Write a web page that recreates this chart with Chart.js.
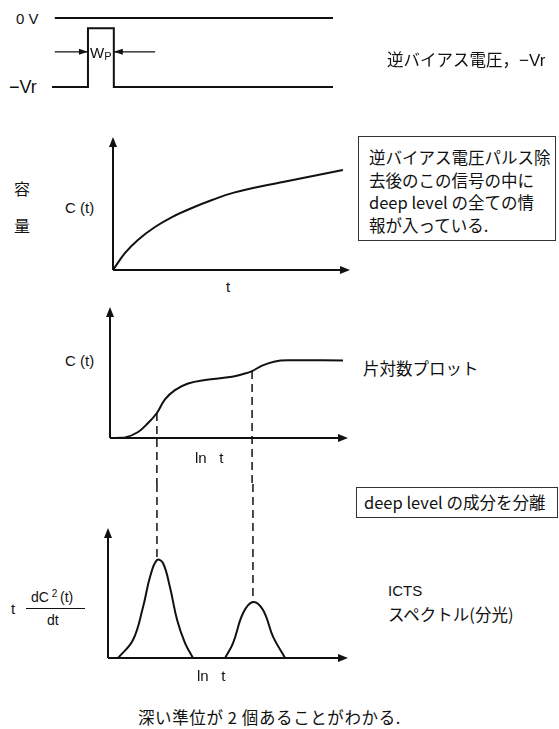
<!DOCTYPE html>
<html>
<head>
<meta charset="utf-8">
<script src="https://cdn.jsdelivr.net/npm/chart.js@4.4.1/dist/chart.umd.min.js"></script>
<style>
  body { margin: 0; background: #fff; }
  #page { position: relative; width: 559px; height: 729px; overflow: hidden; background: #fff;
          font-family: "Liberation Sans", Arial, "Noto Sans CJK JP", sans-serif; color: #111; }
  .t { position: absolute; white-space: nowrap; transform: translateY(-50%); line-height: 1; }
  .jp { font-family: "Noto Sans CJK JP", sans-serif; font-size: 16.5px; }
  .sans { font-family: "Liberation Sans", Arial, sans-serif; }
  .box { position: absolute; border: 1.5px solid #333; box-sizing: border-box; }
  canvas { position: absolute; }
</style>
</head>
<body>
<div id="page">
  <canvas id="c1" width="293" height="81" style="left:46px;top:12px"></canvas>
  <canvas id="c2" width="249" height="145" style="left:107px;top:131px"></canvas>
  <canvas id="c3" width="250" height="183" style="left:104px;top:301px"></canvas>
  <canvas id="c4" width="252" height="180" style="left:102px;top:484px"></canvas>

  <div class="t" style="left:16px;top:18px;font-size:15px">0 V</div>
  <div class="t" style="left:9px;top:87px;font-size:18px">−Vr</div>
  <div class="t" style="left:90px;top:52px;font-size:15px">W<span style="font-size:11px;position:relative;top:2px">P</span></div>
  <div class="t jp" style="left:387px;top:60px">逆バイアス電圧，<span class="sans" style="font-size:17px">−Vr</span></div>

  <div class="t jp" style="left:14px;top:188px;font-size:16px">容</div>
  <div class="t jp" style="left:14px;top:225px;font-size:16px">量</div>
  <div class="t" style="left:65px;top:207px;font-size:15px">C (t)</div>
  <div class="t" style="left:226px;top:286px;font-size:15px">t</div>

  <div class="box" style="left:358px;top:136px;width:198px;height:105px"></div>
  <div class="t jp" style="left:369px;top:157px">逆バイアス電圧パルス除</div>
  <div class="t jp" style="left:369px;top:180px">去後のこの信号の中に</div>
  <div class="t jp" style="left:369px;top:202px">deep level の全ての情</div>
  <div class="t jp" style="left:369px;top:225px">報が入っている.</div>

  <div class="t" style="left:65px;top:360px;font-size:15px">C (t)</div>
  <div class="t" style="left:195px;top:457px;font-size:15px">ln&nbsp;&nbsp;&nbsp;t</div>
  <div class="t jp" style="left:363px;top:368px">片対数プロット</div>

  <div class="box" style="left:356px;top:487px;width:202px;height:31px"></div>
  <div class="t jp" style="left:364px;top:502px">deep level の成分を分離</div>

  <div class="t" style="left:11px;top:608px;font-size:15px">t</div>
  <div class="t" style="left:31px;top:597px;font-size:14px">dC<span style="font-size:10px;position:relative;top:-5px"> 2 </span>(t)</div>
  <div style="position:absolute;left:26px;top:608px;width:59px;border-top:1.2px solid #111"></div>
  <div class="t" style="left:47px;top:620px;font-size:14px">dt</div>
  <div class="t" style="left:197px;top:675px;font-size:15px">ln&nbsp;&nbsp;&nbsp;t</div>
  <div class="t" style="left:388px;top:590px;font-size:15px">ICTS</div>
  <div class="t jp" style="left:388px;top:614px">スペクトル(分光)</div>

  <div class="t jp" style="left:138px;top:717px;letter-spacing:0.6px">深い準位が 2 個あることがわかる.</div>
</div>
<script>
// panel 1: bias pulse (x: time 0..100, y: volts in units of Vr)
const zeroX = [1, 100];
const zeroY = [0, 0];
const biasX = [0, 12.8, 12.8, 22, 22, 100];
const biasY = [-1, -1, -0.15, -0.15, -1, -1];
const wpArrowsX = [[1, 12.8], [36.7, 22]];
const wpArrowY = -0.49;

// panel 2: C(t) vs t
const ctX = [0, 0.51, 1.05, 1.77, 2.49, 3.33, 4.18, 5.10, 7.17, 9.70];
const ctY = [0, 1.28, 2.26, 3.23, 3.98, 4.66, 5.26, 5.82, 6.62, 7.52];

// panel 3: C(t) vs ln t
const lnX = [0, 0.63, 1.18, 1.60, 1.97, 2.31, 2.73, 3.28, 3.99, 5.13, 5.67, 5.97, 6.39, 6.93, 7.48, 9.79];
const lnY = [0, 0.04, 0.46, 1.15, 1.91, 2.95, 3.66, 4.16, 4.43, 4.68, 4.92, 5.11, 5.52, 5.84, 5.93, 5.92];
const dropX3 = [1.97, 5.97];
const dropY3 = [1.91, 5.11];

// panel 4: ICTS spectrum
const peak1X = [0.42, 1.04, 1.46, 1.75, 2.04, 2.29, 2.58, 2.88, 3.21, 3.54];
const peak1Y = [0, 1.38, 3.92, 6.23, 7.54, 7.31, 5.46, 2.92, 1.15, 0];
const peak2X = [4.88, 5.21, 5.63, 6.04, 6.46, 6.88, 7.38];
const peak2Y = [0, 1.15, 3.46, 4.31, 3.69, 1.62, 0];
const dropX4 = [2.04, 6.04];
const dropY4 = [7.54, 4.31];

const ink = '#111';
const pts = (xs, ys) => xs.map((x, i) => ({ x, y: ys[i] }));

function head(ctx, x, y, dir, len = 10, w = 4) {
    ctx.beginPath();
    if (dir === 'up') { ctx.moveTo(x, y); ctx.lineTo(x - w, y + len); ctx.lineTo(x + w, y + len); }
    if (dir === 'right') { ctx.moveTo(x, y); ctx.lineTo(x - len, y - w); ctx.lineTo(x - len, y + w); }
    if (dir === 'left') { ctx.moveTo(x, y); ctx.lineTo(x + len, y - w); ctx.lineTo(x + len, y + w); }
    ctx.closePath();
    ctx.fill();
}

const extras = {
    id: 'extras',
    beforeDatasetsDraw(chart, args, opts) {
        const { ctx, chartArea: a } = chart;
        const xs = chart.scales.x, ys = chart.scales.y;
        ctx.save();
        ctx.strokeStyle = ink;
        ctx.fillStyle = ink;
        if (opts.axes) {
            ctx.lineWidth = 2;
            ctx.beginPath();
            ctx.moveTo(a.left, a.bottom); ctx.lineTo(a.left, a.top + 6);
            ctx.moveTo(a.left, a.bottom); ctx.lineTo(a.right - 6, a.bottom);
            ctx.stroke();
            head(ctx, a.left, a.top, 'up');
            head(ctx, a.right, a.bottom, 'right');
        }
        if (opts.drops) {
            ctx.lineWidth = 1.5;
            ctx.setLineDash([8, 5]);
            opts.drops.xs.forEach((v, i) => {
                const px = xs.getPixelForValue(v);
                const py = ys.getPixelForValue(opts.drops.ys[i]);
                ctx.beginPath();
                if (opts.drops.down) { ctx.moveTo(px, py); ctx.lineTo(px, chart.height); }
                else { ctx.moveTo(px, 0); ctx.lineTo(px, py); }
                ctx.stroke();
            });
            ctx.setLineDash([]);
        }
        if (opts.wp) {
            ctx.lineWidth = 1.2;
            const py = ys.getPixelForValue(wpArrowY);
            wpArrowsX.forEach(([from, to]) => {
                const x1 = xs.getPixelForValue(from), x2 = xs.getPixelForValue(to);
                ctx.beginPath();
                ctx.moveTo(x1, py); ctx.lineTo(x2, py);
                ctx.stroke();
                head(ctx, x2, py, x2 > x1 ? 'right' : 'left', 9, 3);
            });
        }
        ctx.restore();
    }
};

function makeChart(id, datasets, xr, yr, padding, extraOpts, tension) {
    return new Chart(document.getElementById(id), {
        type: 'line',
        data: {
            datasets: datasets.map(d => ({
                data: d,
                borderColor: ink,
                borderWidth: 2,
                pointRadius: 0,
                fill: false,
                tension: tension,
                clip: false
            }))
        },
        options: {
            responsive: false,
            animation: false,
            layout: { padding },
            scales: {
                x: { type: 'linear', min: xr[0], max: xr[1], display: false },
                y: { type: 'linear', min: yr[0], max: yr[1], display: false }
            },
            plugins: { legend: { display: false }, tooltip: { enabled: false }, extras: extraOpts }
        },
        plugins: [extras]
    });
}

makeChart('c1', [pts(zeroX, zeroY), pts(biasX, biasY)], [0, 100], [-1, 0],
    { left: 6, right: 6, top: 6, bottom: 6 }, { wp: true }, 0);

makeChart('c2', [pts(ctX, ctY)], [0, 10], [0, 10],
    { left: 6, right: 6, top: 6, bottom: 6 }, { axes: true }, 0.4);

makeChart('c3', [pts(lnX, lnY)], [0, 10], [0, 10],
    { left: 6, right: 6, top: 6, bottom: 46 },
    { axes: true, drops: { xs: dropX3, ys: dropY3, down: true } }, 0.4);

makeChart('c4', [pts(peak1X, peak1Y), pts(peak2X, peak2Y)], [0, 10], [0, 10],
    { left: 6, right: 6, top: 44, bottom: 6 },
    { axes: true, drops: { xs: dropX4, ys: dropY4, down: false } }, 0.4);
</script>
</body>
</html>
